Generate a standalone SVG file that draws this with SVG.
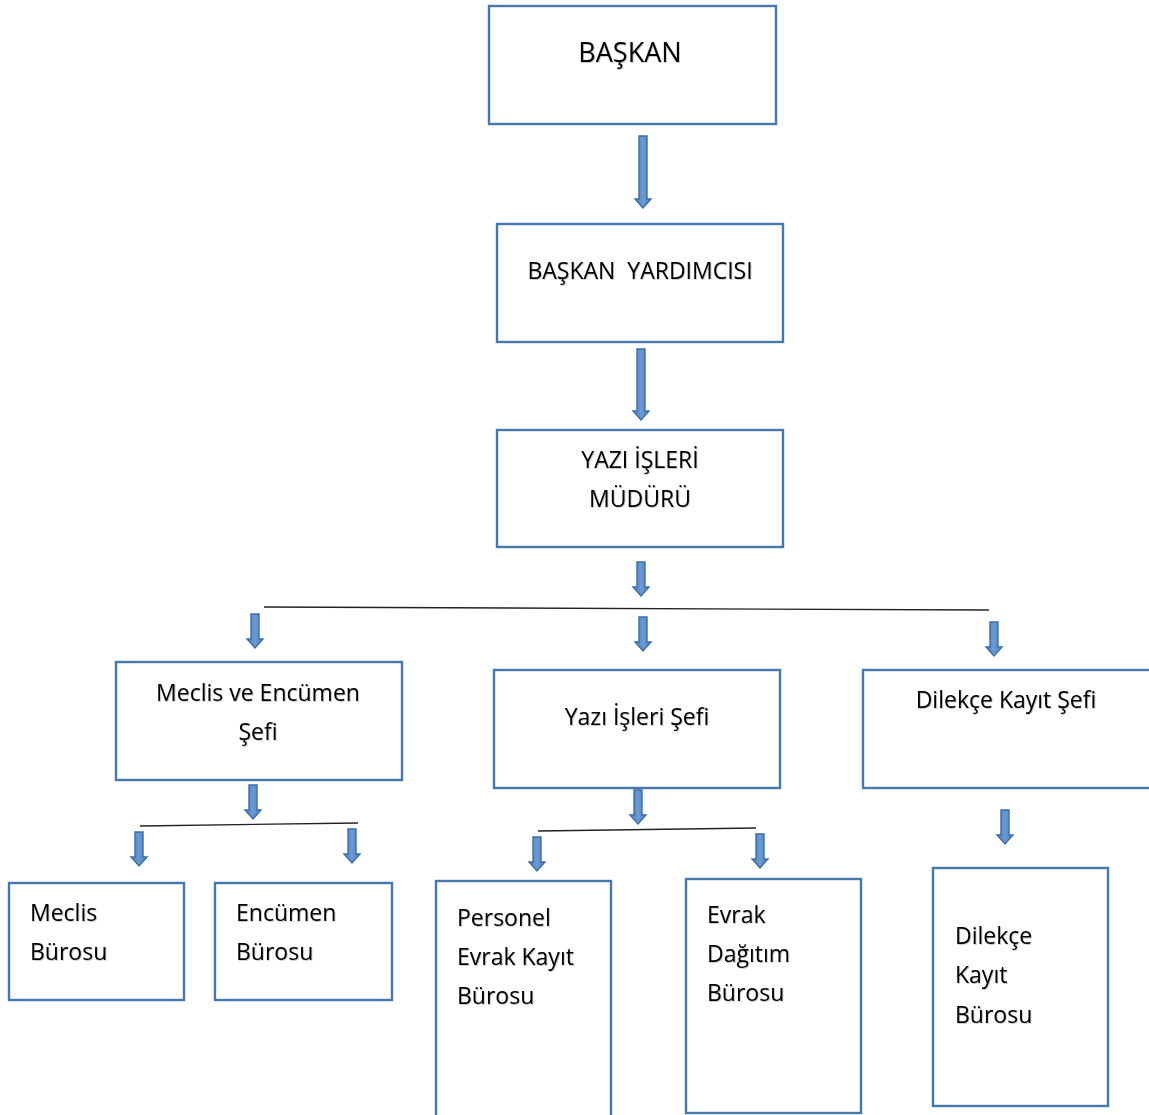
<svg xmlns="http://www.w3.org/2000/svg" width="1149" height="1115" viewBox="0 0 1149 1115">
<style>
.box{fill:#fff;stroke:#4677AE;stroke-width:2.4}
.t{font-family:"Open Sans","Liberation Sans",sans-serif;font-size:23px;fill:#000;filter:url(#sh)}
.c{text-anchor:middle}
.arr{fill:url(#ag);stroke:#3E6EA5;stroke-width:1.4;stroke-linejoin:miter}
.ln{stroke:#222;stroke-width:1.3;fill:none}
</style>
<defs>
<linearGradient id="ag" x1="0" x2="1" y1="0" y2="0">
<stop offset="0" stop-color="#4A7DBA"/>
<stop offset="0.5" stop-color="#6A9BD3"/>
<stop offset="1" stop-color="#4A7DBA"/>
</linearGradient>
<filter id="sh" x="-5%" y="-20%" width="110%" height="140%">
<feDropShadow dx="0.8" dy="0.8" stdDeviation="0.6" flood-color="#000" flood-opacity="0.25"/>
</filter>
</defs>
<rect width="1149" height="1115" fill="#fff"/>
<g id="baskan"><rect class="box" x="489" y="6" width="287" height="118"/><text class="t c" x="630" y="62" style="font-size:27px">BAŞKAN</text></g>
<g id="baskan-yardimcisi"><rect class="box" x="497" y="224" width="286" height="118"/><text class="t c" x="640" y="279" xml:space="preserve">BAŞKAN  YARDIMCISI</text></g>
<g id="yazi-isleri-muduru"><rect class="box" x="497" y="430" width="286" height="117"/><text class="t c" x="640" y="468">YAZI İŞLERİ</text><text class="t c" x="640" y="507">MÜDÜRÜ</text></g>
<g id="meclis-encumen-sefi"><rect class="box" x="116" y="662" width="286" height="118"/><text class="t c" x="258" y="701">Meclis ve Encümen</text><text class="t c" x="258" y="740">Şefi</text></g>
<g id="yazi-isleri-sefi"><rect class="box" x="494" y="670" width="286" height="118"/><text class="t c" x="637" y="725">Yazı İşleri Şefi</text></g>
<g id="dilekce-kayit-sefi"><rect class="box" x="863" y="670" width="290" height="118"/><text class="t c" x="1006" y="708">Dilekçe Kayıt Şefi</text></g>
<g id="meclis-burosu"><rect class="box" x="9" y="883" width="175" height="117"/><text class="t" x="30" y="921">Meclis</text><text class="t" x="30" y="960">Bürosu</text></g>
<g id="encumen-burosu"><rect class="box" x="215" y="883" width="177" height="117"/><text class="t" x="236" y="921">Encümen</text><text class="t" x="236" y="960">Bürosu</text></g>
<g id="personel-evrak-kayit-burosu"><rect class="box" x="436" y="881" width="175" height="240"/><text class="t" x="457" y="926">Personel</text><text class="t" x="457" y="965">Evrak Kayıt</text><text class="t" x="457" y="1004">Bürosu</text></g>
<g id="evrak-dagitim-burosu"><rect class="box" x="686" y="879" width="175" height="234"/><text class="t" x="707" y="923">Evrak</text><text class="t" x="707" y="962">Dağıtım</text><text class="t" x="707" y="1001">Bürosu</text></g>
<g id="dilekce-kayit-burosu"><rect class="box" x="933" y="868" width="175" height="238"/><text class="t" x="955" y="944">Dilekçe</text><text class="t" x="955" y="983">Kayıt</text><text class="t" x="955" y="1023">Bürosu</text></g>
<g id="connectors">
<line class="ln" x1="264" y1="607" x2="989" y2="610"/>
<line class="ln" x1="140" y1="826" x2="358" y2="823"/>
<line class="ln" x1="538" y1="831" x2="756" y2="828"/>
<path class="arr" d="M639,136H647V199H651L643,208L635,199H639Z"/>
<path class="arr" d="M637,349H645V411H649L641,420L633,411H637Z"/>
<path class="arr" d="M637,562H645V587H649L641,596L633,587H637Z"/>
<path class="arr" d="M251,614H259V639H263L255,648L247,639H251Z"/>
<path class="arr" d="M639,617H647V642H651L643,651L635,642H639Z"/>
<path class="arr" d="M990,622H998V647H1002L994,656L986,647H990Z"/>
<path class="arr" d="M249,785H257V810H261L253,819L245,810H249Z"/>
<path class="arr" d="M135,832H143V857H147L139,866L131,857H135Z"/>
<path class="arr" d="M348,829H356V854H360L352,863L344,854H348Z"/>
<path class="arr" d="M634,790H642V815H646L638,824L630,815H634Z"/>
<path class="arr" d="M533,837H541V862H545L537,871L529,862H533Z"/>
<path class="arr" d="M756,834H764V859H768L760,868L752,859H756Z"/>
<path class="arr" d="M1001,810H1009V835H1013L1005,844L997,835H1001Z"/>
</g>
</svg>
